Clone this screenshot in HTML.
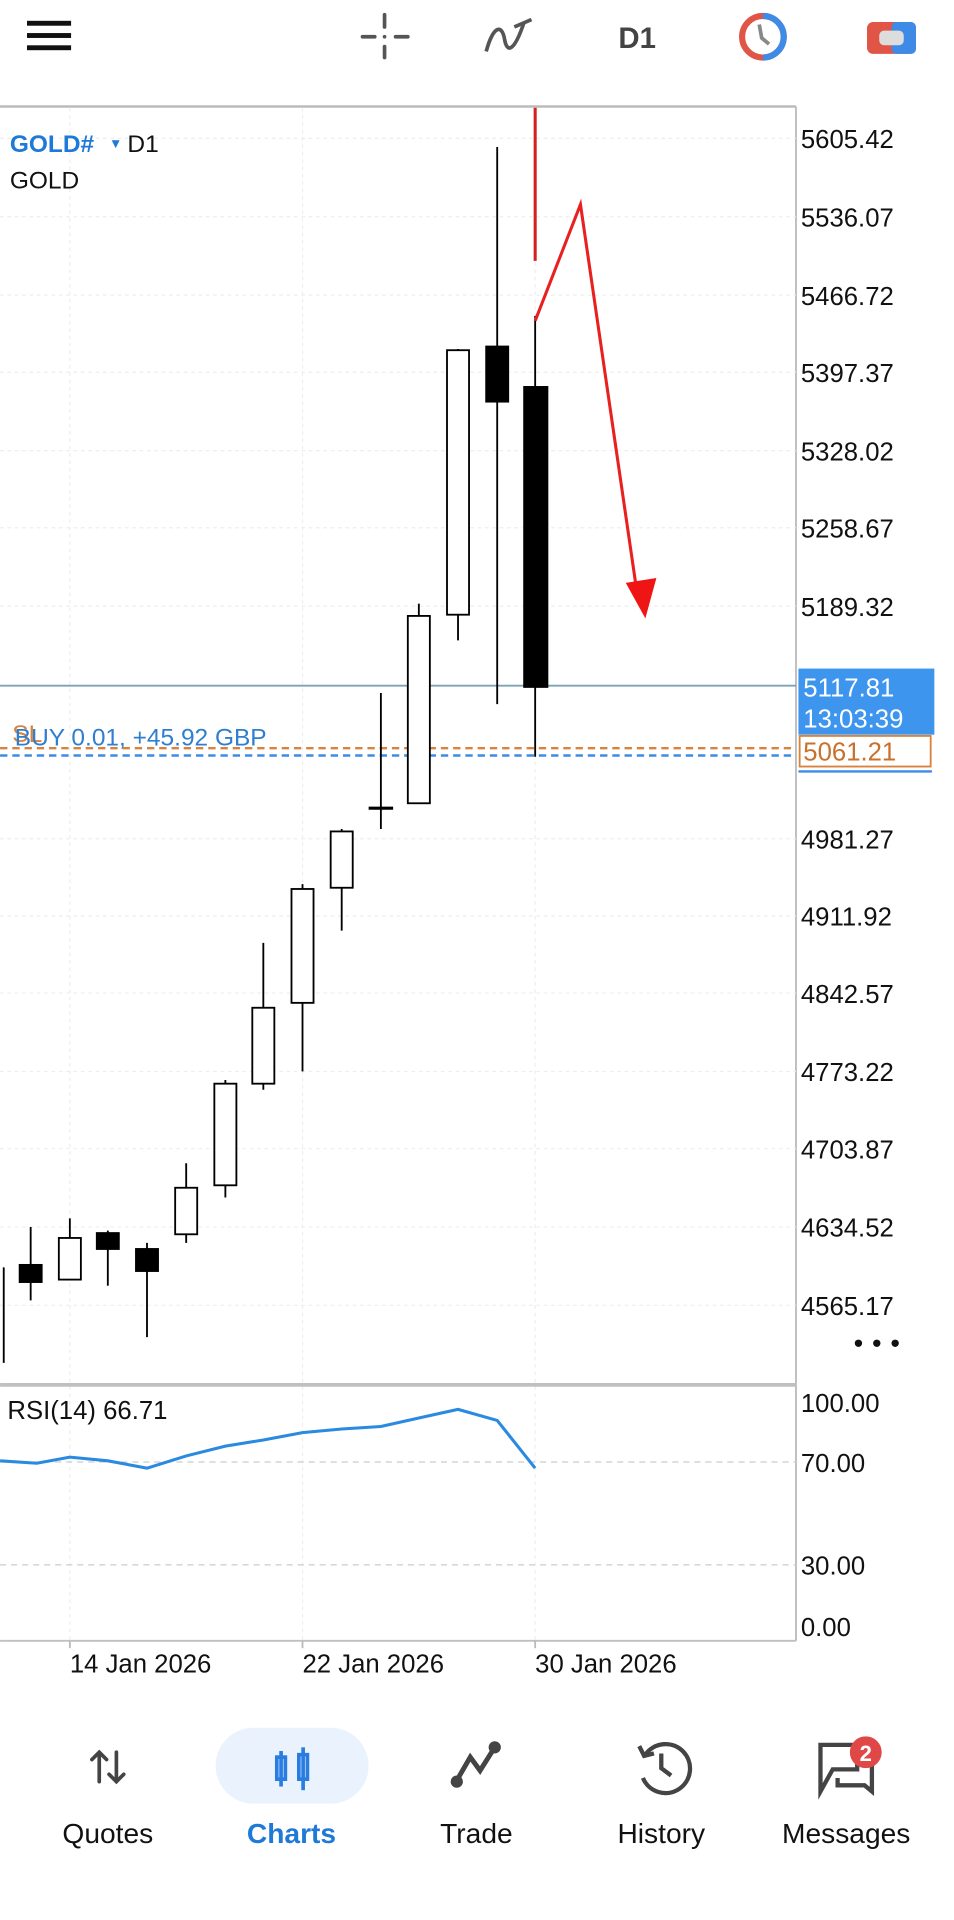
<!DOCTYPE html>
<html><head><meta charset="utf-8"><style>
html,body{margin:0;padding:0;background:#fff;}
svg{display:block;}
text{font-family:"Liberation Sans",sans-serif;}
</style></head><body>
<svg width="954" height="1920" viewBox="0 0 779 1568" xmlns="http://www.w3.org/2000/svg">
<rect width="779" height="1568" fill="#fff"/>
<!-- top bar -->
<g fill="#111"><rect x="22" y="17" width="36" height="4"/><rect x="22" y="27" width="36" height="4"/><rect x="22" y="37" width="36" height="4"/></g>
<g stroke="#555" stroke-width="3" stroke-linecap="round"><line x1="296" y1="30" x2="306" y2="30"/><line x1="323" y1="30" x2="333" y2="30"/><line x1="314" y1="12" x2="314" y2="22"/><line x1="314" y1="38" x2="314" y2="47"/></g>
<circle cx="314" cy="30" r="1.5" fill="#555"/>
<path d="M397 42 C403 20,410 20,412 32 S420 42,428 18" stroke="#555" stroke-width="3" fill="none"/>
<line x1="420" y1="22" x2="434" y2="16" stroke="#555" stroke-width="3"/>
<text x="505" y="39" font-size="24" font-weight="bold" fill="#444">D1</text>
<circle cx="623" cy="30" r="17" fill="none" stroke="#e05545" stroke-width="5"/>
<path d="M623 13 A17 17 0 0 1 623 47" fill="none" stroke="#3d8be6" stroke-width="5"/>
<path d="M620 20 L622 31 L628 36" stroke="#888" stroke-width="3" fill="none"/>
<rect x="708" y="18" width="40" height="26" rx="5" fill="#e05545"/>
<rect x="728" y="18" width="20" height="26" rx="4" fill="#3d8be6"/>
<rect x="718" y="25" width="20" height="12" rx="4" fill="#ddd"/>
<!-- chart frame -->
<line x1="0" y1="87" x2="650" y2="87" stroke="#bbb" stroke-width="2"/>
<line x1="650" y1="87" x2="650" y2="1340" stroke="#bbb" stroke-width="1.5"/>
<g stroke="#eee" stroke-width="1" stroke-dasharray="3,3">
<line x1="57" y1="88" x2="57" y2="1340"/><line x1="247" y1="88" x2="247" y2="1340"/><line x1="437" y1="88" x2="437" y2="1340"/>
<line x1="0" y1="113" x2="650" y2="113"/><line x1="0" y1="177" x2="650" y2="177"/><line x1="0" y1="241" x2="650" y2="241"/><line x1="0" y1="304" x2="650" y2="304"/><line x1="0" y1="368" x2="650" y2="368"/><line x1="0" y1="431" x2="650" y2="431"/><line x1="0" y1="495" x2="650" y2="495"/><line x1="0" y1="685" x2="650" y2="685"/><line x1="0" y1="748" x2="650" y2="748"/><line x1="0" y1="811" x2="650" y2="811"/><line x1="0" y1="875" x2="650" y2="875"/><line x1="0" y1="938" x2="650" y2="938"/><line x1="0" y1="1002" x2="650" y2="1002"/><line x1="0" y1="1066" x2="650" y2="1066"/>
</g>
<text x="8" y="124" font-size="20" font-weight="bold" fill="#1e7ad6">GOLD#</text>
<text x="89" y="121" font-size="11" fill="#1e7ad6">▼</text>
<text x="104" y="124" font-size="20" fill="#111">D1</text>
<text x="8" y="154" font-size="20" fill="#111">GOLD</text>
<!-- price labels -->
<g font-size="21" fill="#111">
<text x="654" y="121">5605.42</text><text x="654" y="185">5536.07</text><text x="654" y="249">5466.72</text><text x="654" y="312">5397.37</text><text x="654" y="376">5328.02</text><text x="654" y="439">5258.67</text><text x="654" y="503">5189.32</text><text x="654" y="693">4981.27</text><text x="654" y="756">4911.92</text><text x="654" y="819">4842.57</text><text x="654" y="883">4773.22</text><text x="654" y="946">4703.87</text><text x="654" y="1010">4634.52</text><text x="654" y="1074">4565.17</text>
</g>
<g fill="#111"><circle cx="701" cy="1097" r="3"/><circle cx="716" cy="1097" r="3"/><circle cx="731" cy="1097" r="3"/></g>
<!-- horizontal lines -->
<line x1="0" y1="560" x2="650" y2="560" stroke="#7aa3b8" stroke-width="1.5"/>
<line x1="0" y1="611" x2="650" y2="611" stroke="#d9823b" stroke-width="2" stroke-dasharray="6,4"/>
<line x1="0" y1="617" x2="650" y2="617" stroke="#3d8be6" stroke-width="2" stroke-dasharray="6,4"/>
<text x="10" y="606" font-size="20" fill="#d9823b">SL</text>
<text x="12" y="609" font-size="20" fill="#2f7fd0">BUY 0.01,  +45.92 GBP</text>
<!-- candles -->
<g stroke="#000" stroke-width="1.5">
<line x1="3" y1="1035" x2="3" y2="1113"/>
<line x1="25" y1="1002" x2="25" y2="1062"/><rect x="16" y="1033" width="18" height="14" fill="#000"/>
<line x1="57" y1="995" x2="57" y2="1011"/><rect x="48" y="1011" width="18" height="34" fill="#fff"/>
<line x1="88" y1="1005" x2="88" y2="1050"/><rect x="79" y="1007" width="18" height="13" fill="#000"/>
<line x1="120" y1="1015" x2="120" y2="1092"/><rect x="111" y="1020" width="18" height="18" fill="#000"/>
<line x1="152" y1="950" x2="152" y2="1015"/><rect x="143" y="970" width="18" height="38" fill="#fff"/>
<line x1="184" y1="882" x2="184" y2="978"/><rect x="175" y="885" width="18" height="83" fill="#fff"/>
<line x1="215" y1="770" x2="215" y2="890"/><rect x="206" y="823" width="18" height="62" fill="#fff"/>
<line x1="247" y1="722" x2="247" y2="875"/><rect x="238" y="726" width="18" height="93" fill="#fff"/>
<line x1="279" y1="677" x2="279" y2="760"/><rect x="270" y="679" width="18" height="46" fill="#fff"/>
<line x1="311" y1="566" x2="311" y2="677"/><line x1="301" y1="660" x2="321" y2="660" stroke-width="2.5"/>
<line x1="342" y1="493" x2="342" y2="503"/><rect x="333" y="503" width="18" height="153" fill="#fff"/>
<line x1="374" y1="285" x2="374" y2="523"/><rect x="365" y="286" width="18" height="216" fill="#fff"/>
<line x1="406" y1="120" x2="406" y2="575"/><rect x="397" y="283" width="18" height="45" fill="#000"/>
<line x1="437" y1="258" x2="437" y2="618"/><rect x="428" y="316" width="19" height="245" fill="#000"/>
</g>
<!-- red annotation -->
<line x1="437" y1="88" x2="437" y2="213" stroke="#d42020" stroke-width="2.5"/>
<polyline points="437,262 474,167 519,476" fill="none" stroke="#e82020" stroke-width="2.5"/>
<polygon points="511,476 536,472 527,505" fill="#f01515"/>
<!-- right price tags -->
<rect x="652" y="546" width="111" height="54" fill="#3d95ee"/>
<text x="656" y="569" font-size="21" fill="#fff">5117.81</text>
<text x="656" y="594" font-size="21" fill="#fff">13:03:39</text>
<rect x="653" y="601" width="107" height="25" fill="#fff" stroke="#d9823b" stroke-width="1.5"/>
<text x="656" y="621" font-size="21" fill="#c9702b">5061.21</text>
<line x1="652" y1="630" x2="761" y2="630" stroke="#3d8be6" stroke-width="2"/>
<!-- RSI -->
<line x1="0" y1="1131" x2="650" y2="1131" stroke="#c0c0c0" stroke-width="3"/>
<line x1="0" y1="1194" x2="650" y2="1194" stroke="#ccc" stroke-width="1" stroke-dasharray="5,4"/>
<line x1="0" y1="1278" x2="650" y2="1278" stroke="#ccc" stroke-width="1" stroke-dasharray="5,4"/>
<line x1="0" y1="1340" x2="650" y2="1340" stroke="#c0c0c0" stroke-width="1.5"/>
<text x="6" y="1159" font-size="21" fill="#111">RSI(14) 66.71</text>
<polyline points="0,1193 30,1195 57,1190 88,1193 120,1199 152,1189 184,1181 215,1176 247,1170 279,1167 311,1165 342,1158 374,1151 406,1160 437,1199" fill="none" stroke="#2a8ae0" stroke-width="2.5"/>
<g font-size="21" fill="#111">
<text x="654" y="1153">100.00</text><text x="654" y="1202">70.00</text><text x="654" y="1286">30.00</text><text x="654" y="1336">0.00</text>
<text x="57" y="1366">14 Jan 2026</text><text x="247" y="1366">22 Jan 2026</text><text x="437" y="1366">30 Jan 2026</text>
</g>
<g stroke="#bbb" stroke-width="1.5"><line x1="57" y1="1340" x2="57" y2="1346"/><line x1="247" y1="1340" x2="247" y2="1346"/><line x1="437" y1="1340" x2="437" y2="1346"/></g>
<!-- bottom nav -->
<rect x="176" y="1411" width="125" height="62" rx="31" fill="#eaf3fd"/>
<g stroke="#444" stroke-width="3" fill="none" stroke-linecap="round">
<path d="M81 1455 V1431 M75 1437 L81 1431 L87 1437"/><path d="M95 1431 V1455 M89 1449 L95 1455 L101 1449"/>
</g>
<g stroke="#2a7de0" stroke-width="3" fill="none">
<rect x="226" y="1435" width="7" height="18"/><line x1="229.5" y1="1430" x2="229.5" y2="1459"/>
<rect x="244" y="1433" width="7" height="20"/><line x1="247.5" y1="1427" x2="247.5" y2="1462"/>
</g>
<g stroke="#444" stroke-width="4" fill="#444"><polyline points="373,1454 384,1435 392,1446 404,1427" fill="none"/><circle cx="373" cy="1455" r="3"/><circle cx="404" cy="1427" r="3"/></g>
<g stroke="#444" stroke-width="3.5" fill="none"><path d="M527 1433 A20 20 0 1 1 525 1452"/><path d="M522 1426 L526 1434 L534 1432"/><path d="M540 1432 V1444 L548 1450"/></g>
<g stroke="#444" stroke-width="3.5" fill="none"><path d="M670 1463 V1425 H700 V1445 H680 Z"/><path d="M700 1436 H712 V1463 L706 1458 H684 V1452"/></g>
<circle cx="707" cy="1431" r="13" fill="#e04848"/>
<text x="707" y="1438" font-size="18" font-weight="bold" fill="#fff" text-anchor="middle">2</text>
<g font-size="23" text-anchor="middle" fill="#111">
<text x="88" y="1505">Quotes</text><text x="238" y="1505" fill="#1e7ad6" font-weight="bold">Charts</text><text x="389" y="1505">Trade</text><text x="540" y="1505">History</text><text x="691" y="1505">Messages</text>
</g>
</svg>
</body></html>
